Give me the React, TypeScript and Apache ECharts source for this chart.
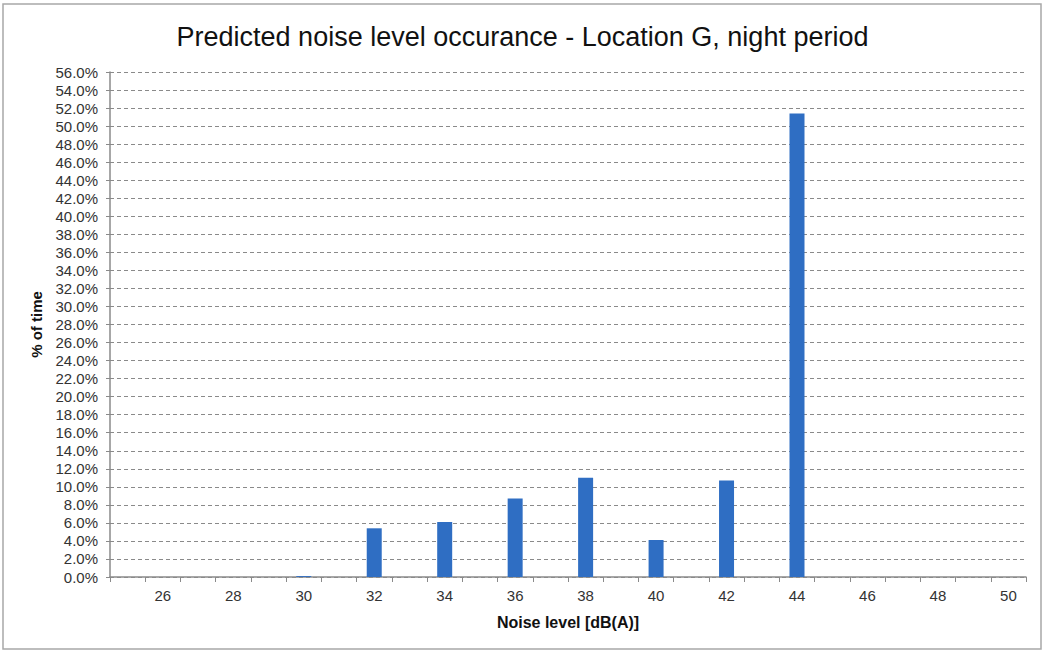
import React, { useEffect, useRef } from "react";
import * as echarts from "echarts";

const categories: string[] = [
  "25", "26", "27", "28", "29", "30", "31", "32", "33", "34", "35", "36", "37",
  "38", "39", "40", "41", "42", "43", "44", "45", "46", "47", "48", "49", "50",
];
// % of time
const values: number[] = [
  0, 0, 0, 0, 0, 0.1, 0, 5.4, 0, 6.1, 0, 8.7, 0,
  11.0, 0, 4.1, 0, 10.7, 0, 51.4, 0, 0, 0, 0, 0, 0,
];
const yMin = 0;
const yMax = 56;
const yStep = 2;
const titleText = "Predicted noise level occurance - Location G, night period";
const xName = "Noise level [dB(A)]";
const yName = "% of time";

export default function App() {
  const ref = useRef<HTMLDivElement>(null);
  useEffect(() => {
    if (!ref.current) return;
    const chart = echarts.init(ref.current, undefined, { renderer: "svg" });
    const font = "'Liberation Sans', Arial, sans-serif";
    chart.setOption({
      animation: false,
      backgroundColor: "#ffffff",
      textStyle: { fontFamily: font },
      title: {
        text: titleText,
        left: "center",
        top: 18,
        textStyle: { fontFamily: font, fontSize: 27, fontWeight: "normal", color: "#111" },
      },
      graphic: [
        {
          type: "rect",
          shape: { x: 3, y: 4, width: 1038, height: 645 },
          style: { fill: "none", stroke: "#a8a8a8", lineWidth: 1.5 },
          silent: true,
        },
      ],
      grid: { left: 110, right: 19, top: 72, bottom: 75 },
      xAxis: {
        type: "category",
        data: categories,
        name: xName,
        nameLocation: "middle",
        nameGap: 37,
        nameTextStyle: { fontFamily: font, fontSize: 16, fontWeight: "bold", color: "#111", padding: [0, 0, 0, 0] },
        axisLine: { lineStyle: { color: "#8a8a8a", width: 1.5 } },
        axisTick: { show: true, interval: 0, length: 5, lineStyle: { color: "#8a8a8a" } },
        axisLabel: {
          interval: (i: number, v: string) => Number(v) % 2 === 0,
          fontSize: 15,
          color: "#333",
          margin: 11,
        },
        splitLine: { show: false },
      },
      yAxis: {
        type: "value",
        min: yMin,
        max: yMax,
        interval: yStep,
        name: yName,
        nameLocation: "middle",
        nameGap: 66,
        nameRotate: 90,
        nameTextStyle: { fontFamily: font, fontSize: 15, fontWeight: "bold", color: "#111" },
        axisLine: { show: true, lineStyle: { color: "#8a8a8a", width: 1.5 } },
        axisTick: { show: true, length: 4, lineStyle: { color: "#8a8a8a" } },
        axisLabel: {
          formatter: (v: number) => v.toFixed(1) + "%",
          fontSize: 15,
          color: "#333",
          margin: 12,
        },
        splitLine: { show: true, lineStyle: { color: "#8a8a8a", type: [4, 3], width: 1 } },
      },
      series: [
        {
          type: "bar",
          data: values,
          barWidth: 15,
          itemStyle: { color: "#2f6ec3" },
        },
      ],
    });
    return () => chart.dispose();
  }, []);
  return (
    <div
      ref={ref}
      style={{ position: "fixed", left: 0, top: 0, width: 1045, height: 652 }}
    />
  );
}
